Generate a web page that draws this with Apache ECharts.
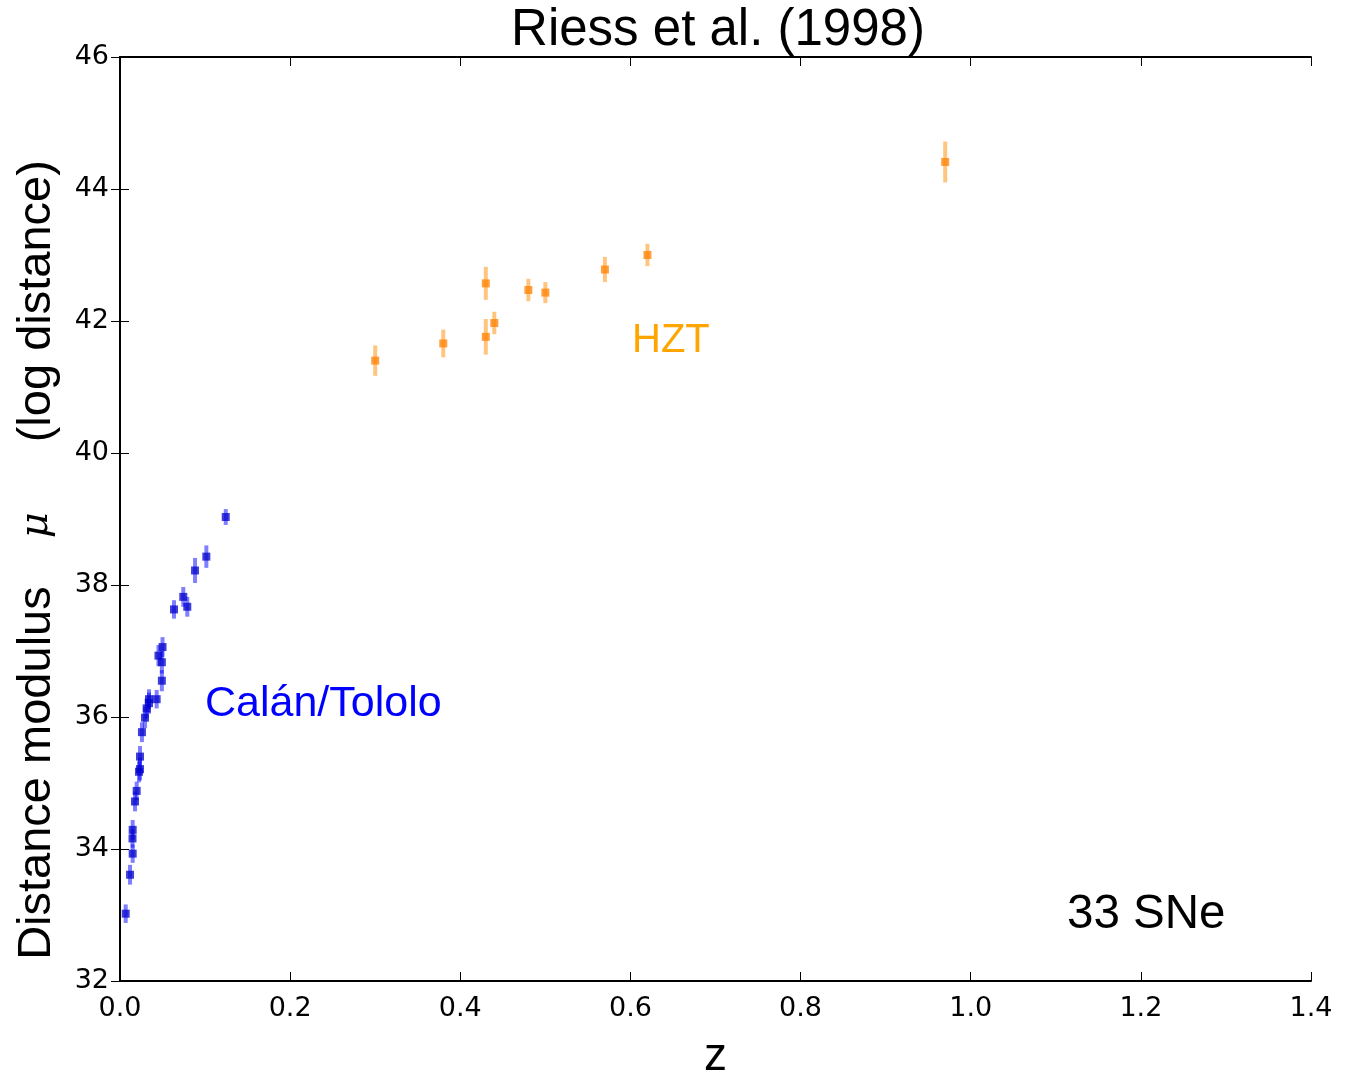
<!DOCTYPE html>
<html>
<head>
<meta charset="utf-8">
<script src="https://cdn.jsdelivr.net/npm/echarts@6/dist/echarts.min.js"></script>
<style>
  html, body { margin: 0; padding: 0; background: #fff; }
  #chart { width: 1345px; height: 1076px; }
</style>
</head>
<body>
<div id="chart"></div>
<script>
// Calán/Tololo low-redshift sample
const ctZ   = [0.0067, 0.0118, 0.0149, 0.0147, 0.0149, 0.0176, 0.0196, 0.0223, 0.0235, 0.0235,
               0.0258, 0.0294, 0.0313, 0.0341, 0.0341, 0.0431, 0.0492, 0.0492, 0.0452, 0.0500,
               0.0635, 0.0744, 0.0791, 0.0882, 0.1015, 0.1243];
const ctMu  = [33.02, 33.61, 33.93, 34.16, 34.29, 34.72, 34.88, 35.17, 35.21, 35.40,
               35.77, 35.99, 36.13, 36.21, 36.27, 36.27, 36.55, 36.83, 36.93, 37.06,
               37.63, 37.82, 37.67, 38.22, 38.43, 39.03];
const ctErr = [0.14, 0.15, 0.14, 0.14, 0.15, 0.15, 0.14, 0.16, 0.17, 0.16,
               0.15, 0.16, 0.15, 0.16, 0.15, 0.14, 0.16, 0.17, 0.16, 0.15,
               0.14, 0.15, 0.15, 0.19, 0.17, 0.12];

// High-z Supernova Team sample
const hztZ   = [0.30, 0.38, 0.43, 0.43, 0.44, 0.48, 0.50, 0.57, 0.62, 0.97];
const hztMu  = [41.40, 41.66, 42.57, 41.76, 41.97, 42.47, 42.43, 42.78, 43.00, 44.41];
const hztErr = [0.23, 0.21, 0.25, 0.27, 0.17, 0.17, 0.16, 0.19, 0.17, 0.31];

const xTicks = { min: 0, max: 1.4, step: 0.2 };
const yTicks = { min: 32, max: 46, step: 2 };

const BLUE = '#0000ff';
const ORANGE = '#ff8c00';

function pointsOf(z, mu, err) {
  return z.map((v, i) => [v, mu[i], err[i]]);
}

// vertical error bar drawn through the axis scales
function errorBar(color) {
  return function (params, api) {
    const x = api.value(0), y = api.value(1), e = api.value(2);
    const top = api.coord([x, y + e]);
    const bot = api.coord([x, y - e]);
    return {
      type: 'rect',
      shape: { x: top[0] - 2, y: top[1], width: 4, height: bot[1] - top[1] },
      style: { fill: color, opacity: 0.5 }
    };
  };
}

const tickFont = { fontFamily: 'DejaVu Sans', fontSize: 27, color: '#000' };
const axisLine = { show: true, lineStyle: { color: '#000', width: 2 } };
const axisTick = { show: true, inside: true, length: 9, lineStyle: { color: '#000', width: 1 } };

const chart = echarts.init(document.getElementById('chart'), null, { renderer: 'canvas' });

chart.setOption({
  animation: false,
  backgroundColor: '#fff',
  grid: { left: 120, top: 57, right: 34, bottom: 95, containLabel: false, outerBoundsMode: 'none' },
  xAxis: [{
    type: 'value', min: xTicks.min, max: xTicks.max, interval: xTicks.step,
    axisLine, axisTick, splitLine: { show: false },
    axisLabel: Object.assign({ margin: 14, formatter: v => v.toFixed(1) }, tickFont),
    name: 'z', nameLocation: 'middle', nameGap: 53,
    nameTextStyle: { fontFamily: 'Liberation Sans', fontSize: 46, color: '#000' }
  }, {
    type: 'value', position: 'top', min: xTicks.min, max: xTicks.max, interval: xTicks.step,
    axisLine, axisTick, splitLine: { show: false }, axisLabel: { show: false }
  }],
  yAxis: [{
    type: 'value', min: yTicks.min, max: yTicks.max, interval: yTicks.step,
    axisLine, axisTick, splitLine: { show: false },
    axisLabel: Object.assign({ margin: 11 }, tickFont)
  }, {
    type: 'value', position: 'right', min: yTicks.min, max: yTicks.max, interval: yTicks.step,
    axisLine, axisTick, splitLine: { show: false }, axisLabel: { show: false }
  }],
  graphic: [
    {
      type: 'text', x: 718, y: 31,
      style: {
        text: 'Riess et al. (1998)', align: 'center', verticalAlign: 'middle',
        fontFamily: 'Liberation Sans', fontSize: 51, fill: '#000'
      }
    },
    {
      type: 'text', x: 37, y: 560, rotation: Math.PI / 2,
      style: {
        text: '{a|Distance modulus}{m|μ}{a|(log distance)}',
        align: 'center', verticalAlign: 'middle',
        rich: {
          a: { fontFamily: 'Liberation Sans', fontSize: 47, fill: '#000' },
          m: { fontFamily: 'DejaVu Serif', fontStyle: 'italic', fontSize: 40, fill: '#000', padding: [0, 70, 0, 48] }
        }
      }
    },
    {
      type: 'text', left: 205, top: 683,
      style: { text: 'Calán/Tololo', fontFamily: 'Liberation Sans', fontSize: 43, fill: BLUE }
    },
    {
      type: 'text', left: 632, top: 321,
      style: { text: 'HZT', fontFamily: 'Liberation Sans', fontSize: 40, fill: '#ffa500' }
    },
    {
      type: 'text', left: 1067, top: 891,
      style: { text: '33 SNe', fontFamily: 'Liberation Sans', fontSize: 47.5, fill: '#000' }
    }
  ],
  series: [
    {
      type: 'custom', name: 'Calán/Tololo errors', renderItem: errorBar(BLUE),
      data: pointsOf(ctZ, ctMu, ctErr), encode: { x: 0, y: 1 }, z: 1
    },
    {
      type: 'custom', name: 'HZT errors', renderItem: errorBar(ORANGE),
      data: pointsOf(hztZ, hztMu, hztErr), encode: { x: 0, y: 1 }, z: 1
    },
    {
      type: 'scatter', name: 'Calán/Tololo', symbol: 'rect', symbolSize: 8,
      data: pointsOf(ctZ, ctMu, ctErr),
      itemStyle: { color: '#0000cc', opacity: 0.75 }, z: 2
    },
    {
      type: 'scatter', name: 'HZT', symbol: 'rect', symbolSize: 8,
      data: pointsOf(hztZ, hztMu, hztErr),
      itemStyle: { color: '#ff8000', opacity: 0.75 }, z: 2
    }
  ]
});
</script>
</body>
</html>
